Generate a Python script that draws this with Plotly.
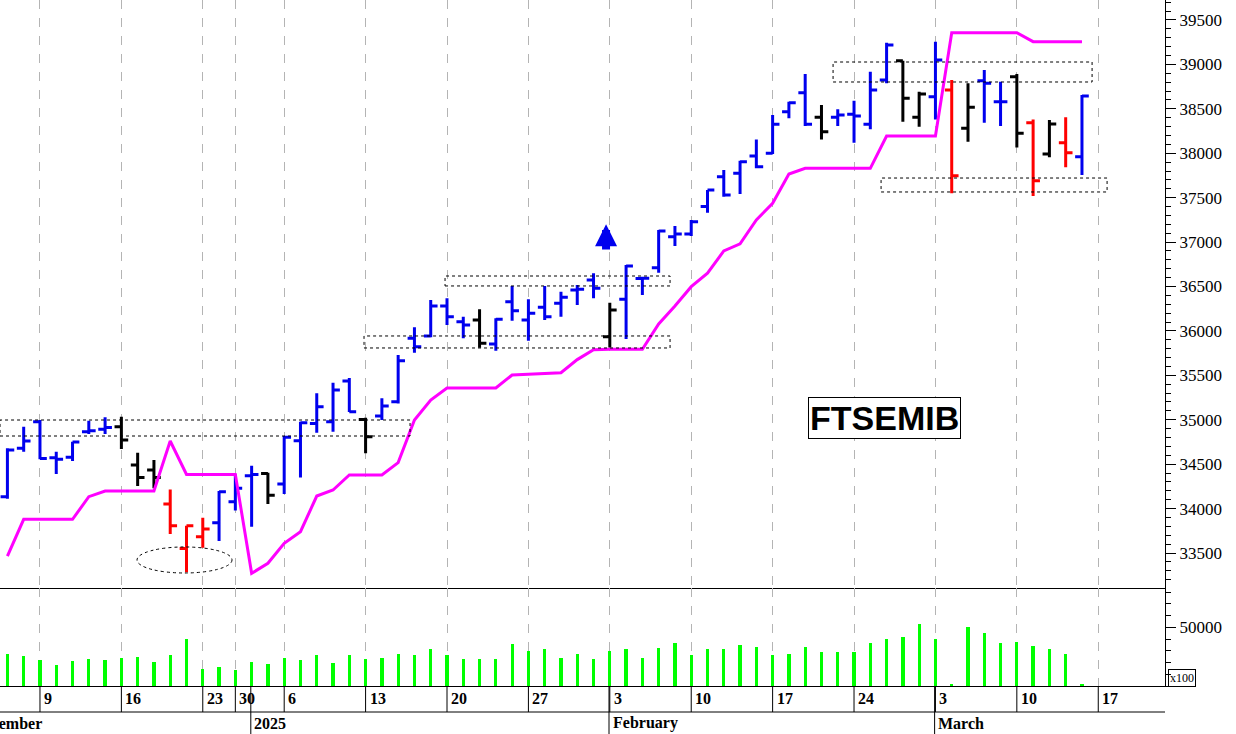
import plotly.graph_objects as go

dates = ["2024-12-05","2024-12-06",
 "2024-12-09","2024-12-10","2024-12-11","2024-12-12","2024-12-13",
 "2024-12-16","2024-12-17","2024-12-18","2024-12-19","2024-12-20",
 "2024-12-23","2024-12-27","2024-12-30","2025-01-02","2025-01-03",
 "2025-01-06","2025-01-07","2025-01-08","2025-01-09","2025-01-10",
 "2025-01-13","2025-01-14","2025-01-15","2025-01-16","2025-01-17",
 "2025-01-20","2025-01-21","2025-01-22","2025-01-23","2025-01-24",
 "2025-01-27","2025-01-28","2025-01-29","2025-01-30","2025-01-31",
 "2025-02-03","2025-02-04","2025-02-05","2025-02-06","2025-02-07",
 "2025-02-10","2025-02-11","2025-02-12","2025-02-13","2025-02-14",
 "2025-02-17","2025-02-18","2025-02-19","2025-02-20","2025-02-21",
 "2025-02-24","2025-02-25","2025-02-26","2025-02-27","2025-02-28",
 "2025-03-03","2025-03-04","2025-03-05","2025-03-06","2025-03-07",
 "2025-03-10","2025-03-11","2025-03-12","2025-03-13","2025-03-14"]

opens = [34134,34678,34978,34573,34577,34866,34892,34922,34490,34434,34051,33552,33684,33841,34078,34370,34396,
 34276,34764,34959,34978,35436,35004,35042,35203,35916,35943,36280,36104,36123,35853,36329,36123,36265,36311,36460,36573,
 35935,36355,36590,36712,37060,37091,37400,37736,37774,37969,37999,38468,38682,38404,38404,38440,38325,38825,39042,38404,
 38637,38712,38280,38817,38580,38862,38344,37991,38119,37961]
highs = [34680,34922,34997,34641,34753,34989,35027,35034,34629,34547,34216,33807,33898,34198,34385,34483,34404,
 34817,34978,35297,35417,35470,35023,35241,35730,36040,36348,36367,36160,36243,36142,36506,36356,36506,36442,36517,36648,
 36318,36742,36610,37136,37181,37249,37586,37811,37916,38156,38430,38580,38892,38543,38494,38591,38918,39244,39042,38693,
 39256,38824,38787,38937,38806,38892,38381,38374,38404,38655]
lows = [34110,34641,34554,34389,34535,34839,34839,34670,34254,34228,33714,33282,33560,33635,33977,33796,34051,
 34164,34351,34854,34866,35087,34622,34997,35184,35755,35928,36066,35917,35811,35778,36115,35890,36123,36160,36292,36367,
 35812,35909,36404,36656,36956,37068,37330,37511,37541,37830,37991,38393,38306,38156,38306,38119,38269,38787,38355,38299,
 38381,37549,38130,38344,38306,38066,37518,37954,37841,37755]
closes = [34659,34760,34565,34554,34749,34877,34914,34772,34351,34351,33807,33807,33770,34190,34228,34385,34149,
 34802,34967,35147,35334,35091,34809,35155,35665,35823,36280,36160,36067,35860,36130,36228,36198,36160,36378,36468,36480,
 36235,36731,36594,37125,37090,37230,37586,37530,37905,37849,38325,38569,38325,38243,38430,38420,38712,39218,38618,38667,
 39049,37747,38517,38787,38580,38224,37691,38329,38006,38644]
bar_colors = (["b"]*7 + ["k"]*3 + ["r"]*3 + ["b"]*3 + ["k"] + ["b"]*5 + ["k"] + ["b"]*6 + ["k"] + ["b"]*7 + ["k"]
 + ["b"]*12 + ["k"] + ["b"]*4 + ["k"]*2 + ["b"] + ["r"] + ["k"] + ["b"]*2 + ["k"] + ["r"] + ["k"] + ["r"] + ["b"])
stop_line = [33466,33879,33879,33879,33879,34134,34198,34198,34198,34198,34761,34385,34385,34385,34385,33271,33384,
 33609,33740,34141,34209,34378,34378,34378,34517,34997,35222,35357,35357,35357,35357,35504,35510,35522,35530,35677,35789,
 35793,35793,35793,36078,36280,36498,36650,36900,36980,37250,37436,37766,37830,37830,37830,37830,37830,38194,38194,38194,
 38194,39357,39357,39357,39357,39357,39256,39256,39256,39256]
volumes = [27700,25400,22000,18100,21200,22900,21800,24300,25100,20600,26800,40100,14400,16100,13300,20600,18400,
 24300,22000,26800,19500,26800,22900,24300,27700,26800,31600,26800,22900,22900,23200,35600,30200,31600,24300,27700,23200,
 29900,31600,24300,32800,36400,26600,31600,31600,35300,33600,26800,27700,33600,29400,29400,29400,36400,39800,42100,52500,
 39800,1400,50600,44900,36400,37900,33900,31400,27700,1400]

tick_idx = [2,7,12,14,17,22,27,32,37,42,47,52,57,62,67]
tick_text = ["9","16","23","30","6","13","20","27","3","10","17","24","3","10","17"]
month_idx = [2.25,15,37,57]
month_text = ["December","2025","February","March"]

price_ticks = list(range(33500, 40000, 500))

x = list(range(len(dates)))
COL = {"b": "#0000ee", "k": "#000000", "r": "#ff0000"}
SERIF = "Liberation Serif"

fig = go.Figure()
for key, c in COL.items():
    idx = [i for i in x if bar_colors[i] == key]
    fig.add_trace(go.Ohlc(
        x=idx, open=[opens[i] for i in idx], high=[highs[i] for i in idx],
        low=[lows[i] for i in idx], close=[closes[i] for i in idx],
        increasing=dict(line=dict(color=c, width=3)),
        decreasing=dict(line=dict(color=c, width=3)),
        tickwidth=0.42, hoverinfo="skip", showlegend=False, xaxis="x", yaxis="y"))

fig.add_trace(go.Scatter(x=x, y=stop_line, mode="lines", line=dict(color="#ff00ff", width=3),
                         hoverinfo="skip", showlegend=False, xaxis="x", yaxis="y"))
fig.add_trace(go.Bar(x=x, y=volumes, width=0.2, marker=dict(color="#00ff00", line=dict(width=0)),
                     hoverinfo="skip", showlegend=False, xaxis="x2", yaxis="y2"))

xr = [-0.455, 71.1]
PW = 1165 / 1236
fig.update_layout(
    width=1236, height=734, margin=dict(l=0, r=0, t=0, b=0),
    paper_bgcolor="white", plot_bgcolor="white",
    xaxis=dict(domain=[0, PW], range=xr, anchor="y", tickvals=tick_idx, showticklabels=False,
               ticks="", showgrid=True, gridcolor="#b4b4b4", griddash="dash", gridwidth=1,
               zeroline=False, showline=True, linecolor="black", linewidth=1,
               rangeslider=dict(visible=False)),
    yaxis=dict(domain=[146/734, 1], range=[33106, 39725], side="right", anchor="x",
               tickvals=price_ticks, ticktext=[str(v) for v in price_ticks],
               ticks="outside", ticklen=10, tickcolor="black",
               minor=dict(dtick=100, ticks="outside", ticklen=5, tickcolor="black"),
               showgrid=False, zeroline=False, showline=True, linecolor="black",
               tickfont=dict(family=SERIF, size=17, color="black")),
    xaxis2=dict(domain=[0, PW], range=xr, anchor="y2", tickvals=tick_idx, showticklabels=False,
                ticks="", showgrid=True, gridcolor="#b4b4b4", griddash="dash", gridwidth=1,
                zeroline=False, showline=True, linecolor="black", linewidth=1),
    yaxis2=dict(domain=[48/734, 146/734], range=[0, 83600], side="right", anchor="x2",
                tickvals=[50000], ticktext=["50000"], ticks="outside", ticklen=10, tickcolor="black",
                minor=dict(dtick=10000, ticks="outside", ticklen=5, tickcolor="black"),
                showgrid=False, zeroline=False, showline=True, linecolor="black",
                tickfont=dict(family=SERIF, size=17, color="black")),
    bargap=0,
)

def ix(px):
    return (px - 7.4) / 16.28

# dashed boxes
boxes = [(ix(0), ix(410), 34817, 34997), (ix(364), ix(670), 35808, 35943),
         (ix(445), ix(670), 36506, 36618), (ix(833), ix(1092), 38802, 39027),
         (ix(881), ix(1107), 37564, 37721)]
for x0, x1, y0, y1 in boxes:
    fig.add_shape(type="rect", xref="x", yref="y", x0=x0, x1=x1, y0=y0, y1=y1,
                  line=dict(color="black", width=1, dash="dot"))
fig.add_shape(type="circle", xref="x", yref="y", x0=ix(137), x1=ix(232), y0=33275, y1=33568,
              line=dict(color="black", width=1, dash="dot"))

# arrow
fig.add_annotation(x=ix(606), y=37200, ax=ix(606), ay=36900, xref="x", yref="y", axref="x", ayref="y",
                   text="", showarrow=True, arrowhead=2, arrowwidth=8, arrowsize=0.55, arrowcolor="#0000ee")

# label
fig.add_annotation(x=884/1236, y=1-418/734, xref="paper", yref="paper", text="<b>FTSEMIB</b>",
                   showarrow=False, xanchor="center", yanchor="middle",
                   font=dict(family="Liberation Sans", size=34, color="black"),
                   bordercolor="black", borderwidth=1, borderpad=1, bgcolor="white")

# date axis region
fig.add_shape(type="line", xref="paper", yref="paper", x0=0, x1=PW, y0=22/734, y1=22/734,
              line=dict(color="black", width=1))
for i, t in zip(tick_idx, tick_text):
    fig.add_shape(type="line", xref="x2", yref="paper", x0=i, x1=i, y0=22/734, y1=48/734,
                  line=dict(color="black", width=1))
    fig.add_annotation(x=i + 0.12, y=36/734, xref="x2", yref="paper", text=f"<b>{t}</b>",
                       showarrow=False, xanchor="left", yanchor="middle",
                       font=dict(family=SERIF, size=16, color="black"))
for i, t in zip(month_idx, month_text):
    if t != "December":
        fig.add_shape(type="line", xref="x2", yref="paper", x0=i - 0.05, x1=i - 0.05, y0=0, y1=48/734,
                      line=dict(color="black", width=1))
        fig.add_annotation(x=i + 0.05, y=11/734, xref="x2", yref="paper", text=f"<b>{t}</b>",
                           showarrow=False, xanchor="left", yanchor="middle",
                           font=dict(family=SERIF, size=16, color="black"))
    else:
        fig.add_annotation(x=i, y=11/734, xref="x2", yref="paper", text=f"<b>{t}</b>",
                           showarrow=False, xanchor="right", yanchor="middle",
                           font=dict(family=SERIF, size=16, color="black"))

fig.add_annotation(x=1168/1236, y=1-678/734, xref="paper", yref="paper", text="x100",
                   showarrow=False, xanchor="left", yanchor="middle",
                   font=dict(family=SERIF, size=12, color="black"),
                   bordercolor="black", borderwidth=1, borderpad=1)

fig.write_html("out.html", config={"displayModeBar": False},
               post_script="document.body.style.margin='0px';document.body.style.overflow='hidden';")
